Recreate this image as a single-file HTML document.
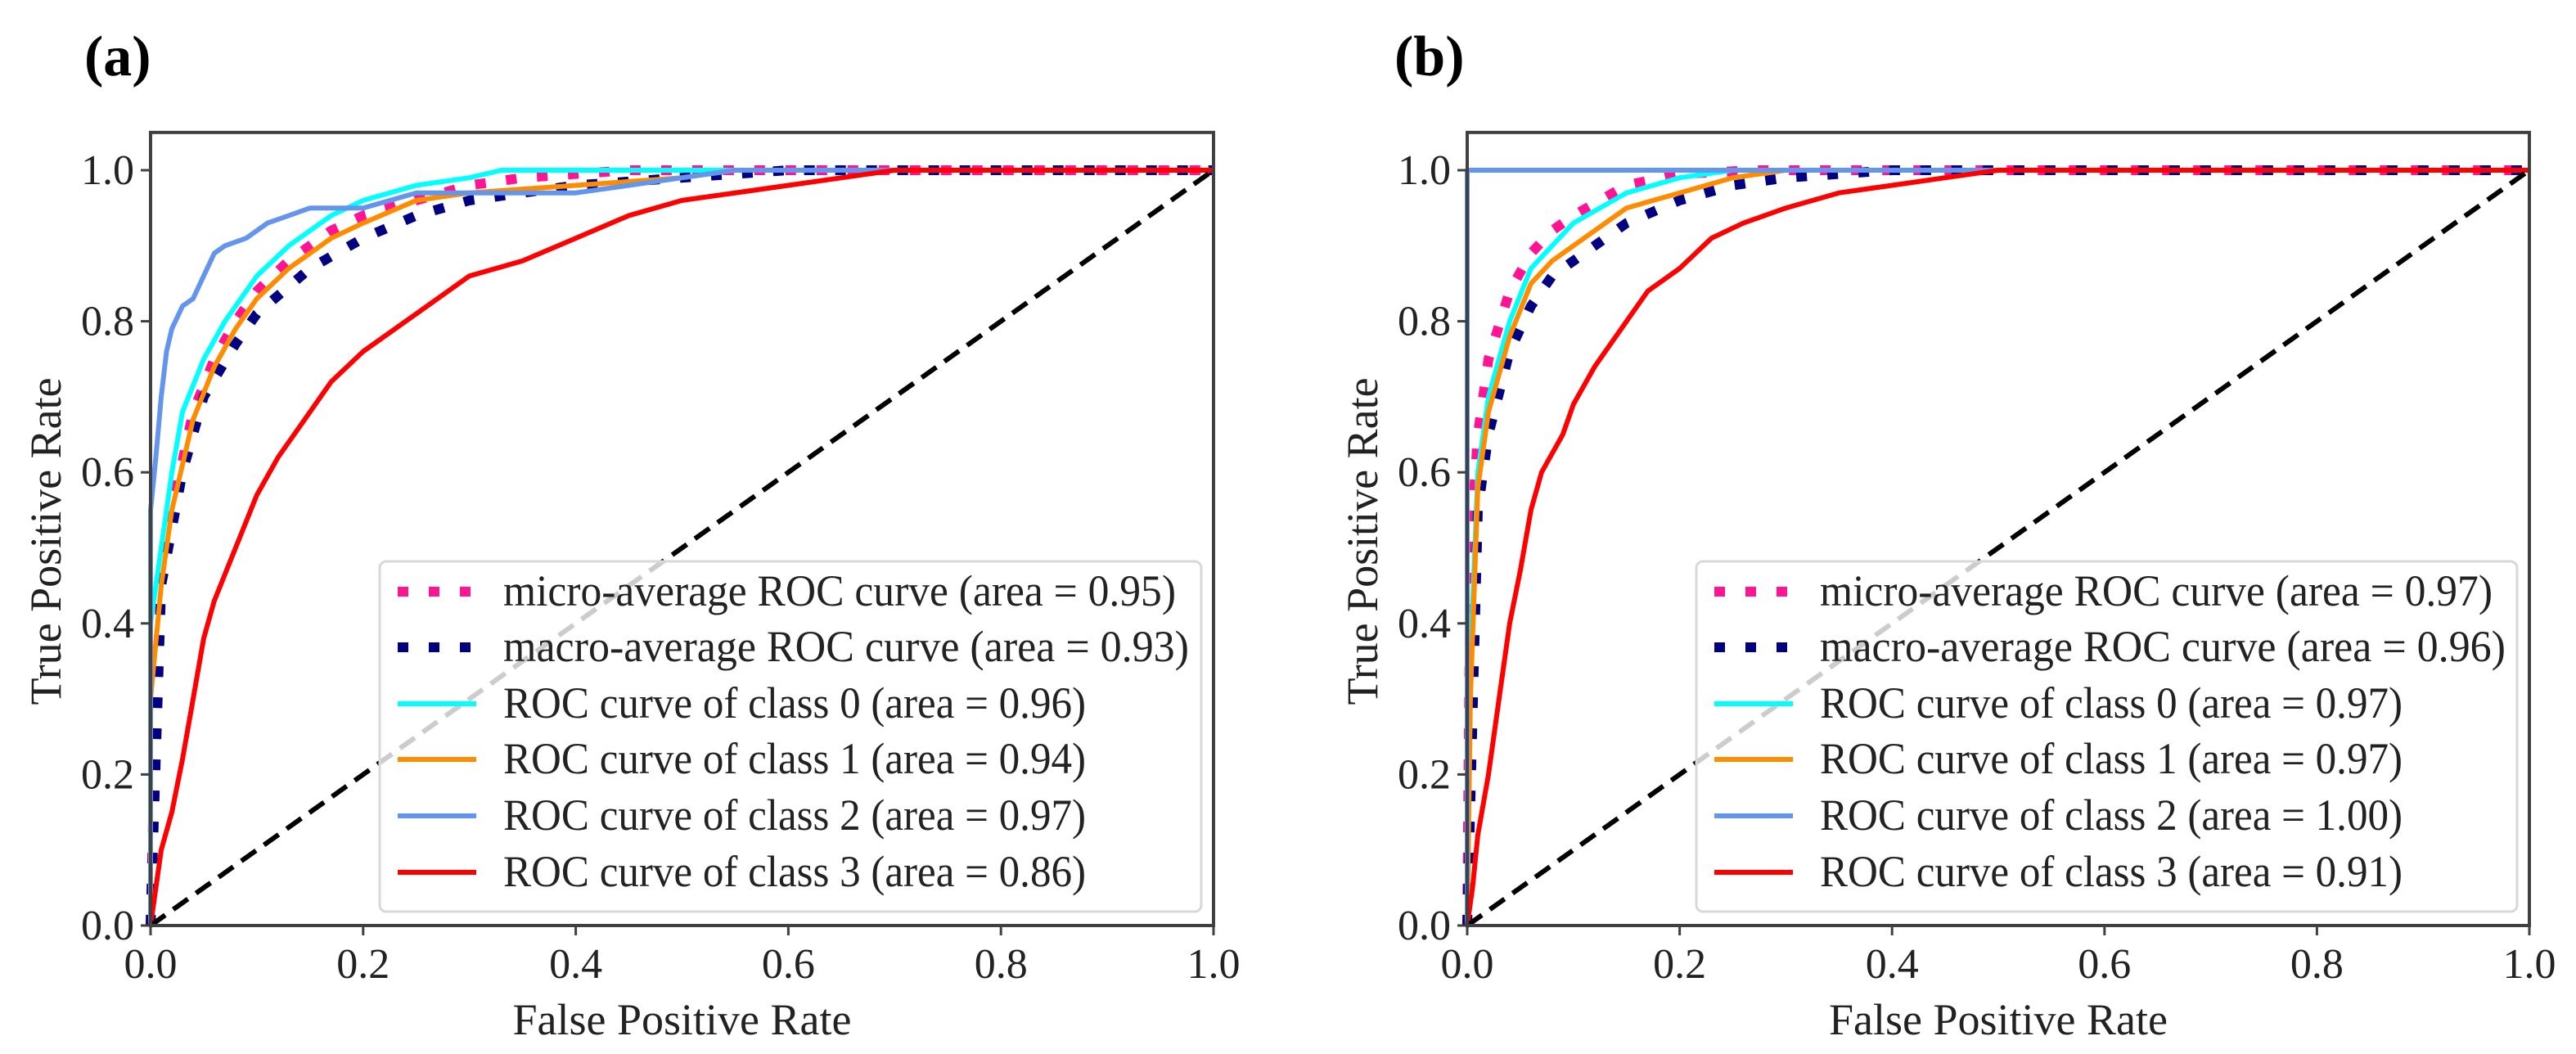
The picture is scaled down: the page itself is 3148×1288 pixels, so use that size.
<!DOCTYPE html>
<html><head><meta charset="utf-8"><style>
html,body{margin:0;padding:0;background:#fff;}
svg{display:block;}
</style></head><body>
<svg id="fig" xmlns="http://www.w3.org/2000/svg" width="3148" height="1288" viewBox="0 0 3148 1288"></svg>
<script>
// ---- data ----
const tickValues = [0.0, 0.2, 0.4, 0.6, 0.8, 1.0];
const tickLabels = ["0.0", "0.2", "0.4", "0.6", "0.8", "1.0"];
const seriesNames = ["micro", "macro", "class0", "class1", "class2", "class3"];
const areasA = ["0.95", "0.93", "0.96", "0.94", "0.97", "0.86"];
const areasB = ["0.97", "0.96", "0.97", "0.97", "1.00", "0.91"];

const a_micro_x = [0,0.005,0.01,0.02,0.04,0.06,0.08,0.1,0.13,0.17,0.2,0.25,0.3,0.35,0.45,1];
const a_micro_y = [0,0.3,0.45,0.55,0.68,0.75,0.8,0.84,0.88,0.92,0.94,0.96,0.98,0.99,1,1];
const a_macro_x = [0,0.01,0.03,0.05,0.08,0.1,0.15,0.2,0.25,0.3,0.4,0.5,0.6,1];
const a_macro_y = [0,0.45,0.6,0.7,0.77,0.81,0.87,0.91,0.94,0.96,0.98,0.99,1,1];
const a_c0_x = [0,0,0.01,0.02,0.03,0.05,0.07,0.1,0.13,0.17,0.2,0.25,0.3,0.33,1];
const a_c0_y = [0,0.4,0.5,0.6,0.68,0.75,0.8,0.86,0.9,0.94,0.96,0.98,0.99,1,1];
const a_c1_x = [0,0,0.01,0.02,0.04,0.06,0.08,0.1,0.13,0.17,0.2,0.25,0.3,0.4,0.5,0.55,1];
const a_c1_y = [0,0.3,0.45,0.55,0.67,0.74,0.79,0.83,0.87,0.91,0.93,0.96,0.97,0.98,0.99,1,1];
const a_c2_x = [0,0,0.005,0.01,0.015,0.02,0.03,0.04,0.05,0.06,0.07,0.09,0.1,0.11,0.13,0.15,0.2,0.25,0.3,0.35,0.4,0.45,0.5,0.55,1];
const a_c2_y = [0,0.55,0.62,0.7,0.76,0.79,0.82,0.83,0.86,0.89,0.9,0.91,0.92,0.93,0.94,0.95,0.95,0.97,0.97,0.97,0.97,0.98,0.99,1,1];
const a_c3_x = [0,0.005,0.01,0.02,0.03,0.04,0.05,0.06,0.08,0.1,0.12,0.14,0.17,0.2,0.25,0.3,0.35,0.4,0.45,0.5,0.6,0.7,1];
const a_c3_y = [0,0.05,0.1,0.15,0.22,0.3,0.38,0.43,0.5,0.57,0.62,0.66,0.72,0.76,0.81,0.86,0.88,0.91,0.94,0.96,0.98,1,1];

const b_micro_x = [0,0.003,0.01,0.02,0.04,0.06,0.08,0.1,0.15,0.2,0.27,1];
const b_micro_y = [0,0.5,0.65,0.75,0.84,0.89,0.92,0.94,0.98,0.995,1,1];
const b_macro_x = [0,0.01,0.02,0.04,0.06,0.08,0.1,0.15,0.2,0.25,0.3,0.4,1];
const b_macro_y = [0,0.55,0.65,0.76,0.82,0.86,0.88,0.93,0.96,0.98,0.99,1,1];
const b_c0_x = [0,0.003,0.01,0.02,0.04,0.06,0.08,0.1,0.15,0.2,0.25,1];
const b_c0_y = [0,0.35,0.6,0.7,0.8,0.87,0.9,0.93,0.97,0.99,1,1];
const b_c1_x = [0,0.003,0.01,0.02,0.04,0.06,0.08,0.1,0.15,0.2,0.25,0.3,1];
const b_c1_y = [0,0.3,0.58,0.68,0.78,0.85,0.88,0.9,0.95,0.97,0.99,1,1];
const b_c2_x = [0,0,1];
const b_c2_y = [0,1,1];
const b_c3_x = [0,0.005,0.01,0.02,0.03,0.04,0.05,0.06,0.07,0.09,0.1,0.12,0.15,0.17,0.2,0.23,0.26,0.3,0.35,0.4,0.45,0.5,1];
const b_c3_y = [0,0.05,0.12,0.2,0.3,0.4,0.47,0.55,0.6,0.65,0.69,0.74,0.8,0.84,0.87,0.91,0.93,0.95,0.97,0.98,0.99,1,1];

const NS = "http://www.w3.org/2000/svg";
const svg = document.getElementById("fig");
function mk(tag, attrs, parent) {
  const e = document.createElementNS(NS, tag);
  for (const k in attrs) e.setAttribute(k, attrs[k]);
  (parent || svg).appendChild(e);
  return e;
}
const styles = {
  micro: {stroke:"#ff1493", width:12, dash:"13 25", label:"micro-average ROC curve"},
  macro: {stroke:"#000080", width:12, dash:"13 25", label:"macro-average ROC curve"},
  class0: {stroke:"#00ffff", width:6, dash:null, label:"ROC curve of class 0"},
  class1: {stroke:"#ff8c00", width:6, dash:null, label:"ROC curve of class 1"},
  class2: {stroke:"#6495ed", width:6, dash:null, label:"ROC curve of class 2"},
  class3: {stroke:"#ff0000", width:6, dash:null, label:"ROC curve of class 3"}
};

function panel(id, left, right, tag, tagX, data, areas) {
  const bottom = 1131, y1 = 208;
  const top = bottom - (bottom - y1) * 1.05;
  const sx = v => left + v * (right - left);
  const sy = v => bottom - v * (bottom - y1);
  const g = mk("g", {});
  
  

  const t = mk("text", {x: tagX, y: 92, "font-family": "Liberation Serif, serif", "font-weight": "bold", "font-size": 70, fill: "#000"}, g);
  t.textContent = tag;
  
  

  const order = ["micro", "macro", "class0", "class1", "class2", "class3"];
  order.forEach(name => {
    const xs = data[name][0], ys = data[name][1];
    const pts = xs.map((x, i) => sx(x).toFixed(1) + "," + sy(ys[i]).toFixed(1)).join(" ");
    const st = styles[name];
    const attrs = {points: pts, fill: "none", stroke: st.stroke, "stroke-width": st.width, "stroke-linejoin": "round"};
    if (st.dash) attrs["stroke-dasharray"] = st.dash;
    const p = mk("polyline", attrs, g);
    
    
  });
  const d = mk("line", {x1: sx(0), y1: sy(0), x2: sx(1), y2: sy(1), stroke: "#000", "stroke-width": 6, "stroke-dasharray": "22 12"}, g);
  
  

  const fr = mk("rect", {x: left, y: top, width: right - left, height: bottom - top, fill: "none", stroke: "#404040", "stroke-width": 4}, g);
  
  

  tickValues.forEach((v, i) => {
    const xt = mk("line", {x1: sx(v), y1: bottom, x2: sx(v), y2: bottom + 12, stroke: "#404040", "stroke-width": 3}, g);
    
    
    const xl = mk("text", {x: sx(v), y: bottom + 64, "text-anchor": "middle", "font-family": "Liberation Serif, serif", "font-size": 52, fill: "#222"}, g);
    xl.textContent = tickLabels[i];
    
    
    const yt = mk("line", {x1: left - 12, y1: sy(v), x2: left, y2: sy(v), stroke: "#404040", "stroke-width": 3}, g);
    
    
    const yl = mk("text", {x: left - 20, y: sy(v) + 17, "text-anchor": "end", "font-family": "Liberation Serif, serif", "font-size": 52, fill: "#222"}, g);
    yl.textContent = tickLabels[i];
    
    
  });
  const xa = mk("text", {x: (left + right) / 2, y: 1264, "text-anchor": "middle", "font-family": "Liberation Serif, serif", "font-size": 54, fill: "#222"}, g);
  xa.textContent = "False Positive Rate";
  
  
  const ya = mk("text", {x: 0, y: 0, "text-anchor": "middle", "font-family": "Liberation Serif, serif", "font-size": 54, fill: "#222", transform: "translate(" + (left - 110) + "," + ((top + bottom) / 2 + 15) + ") rotate(-90)"}, g);
  ya.textContent = "True Positive Rate";
  
  

  const lx = left + 280, ly = 686, lw = right - 15 - lx, lh = 428;
  const lg = mk("g", {}, g);
  
  
  mk("rect", {x: lx, y: ly, width: lw, height: lh, rx: 8, fill: "#fff", "fill-opacity": 0.8, stroke: "#d8d8d8", "stroke-width": 3}, lg);
  const rows = [723, 791, 860, 928, 997, 1066];
  order.forEach((name, i) => {
    const st = styles[name];
    const la = {x1: lx + 22, y1: rows[i], x2: lx + 118, y2: rows[i], stroke: st.stroke, "stroke-width": st.width};
    if (st.dash) la["stroke-dasharray"] = st.dash;
    const hl = mk("line", la, lg);
    
    
    const txt = st.label + " (area = " + areas[i] + ")";
    const tl = i < 2 ? (i === 0 ? 822 : 838) : 712;
    const te = mk("text", {x: lx + 151, y: rows[i] + 17, "font-family": "Liberation Serif, serif", "font-size": 54, fill: "#222", textLength: tl, lengthAdjust: "spacingAndGlyphs"}, lg);
    te.textContent = txt;
    
    
  });
}

panel("a", 184, 1483, "(a)", 103, {
  micro: [a_micro_x, a_micro_y], macro: [a_macro_x, a_macro_y],
  class0: [a_c0_x, a_c0_y], class1: [a_c1_x, a_c1_y],
  class2: [a_c2_x, a_c2_y], class3: [a_c3_x, a_c3_y]
}, areasA);
panel("b", 1793, 3091, "(b)", 1704, {
  micro: [b_micro_x, b_micro_y], macro: [b_macro_x, b_macro_y],
  class0: [b_c0_x, b_c0_y], class1: [b_c1_x, b_c1_y],
  class2: [b_c2_x, b_c2_y], class3: [b_c3_x, b_c3_y]
}, areasB);
</script>
</body></html>
